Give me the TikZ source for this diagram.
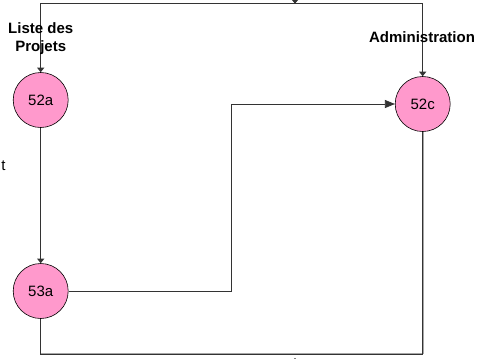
\documentclass[tikz,border=0pt]{standalone}
\usepackage{fontspec}
\setmainfont{Liberation Sans}
\usetikzlibrary{arrows.meta}
\definecolor{procpink}{HTML}{FF99CC}
\definecolor{linegray}{HTML}{333333}
\tikzset{
  proc/.style={circle, draw=black, line width=0.6pt, fill=procpink, minimum size=55pt, inner sep=0pt, font=\fontsize{15}{18}\selectfont},
  lbl/.style={font=\bfseries\fontsize{15}{18.7}\selectfont, inner sep=0pt, align=center},
  conn/.style={draw=linegray, line width=0.8pt},
  sm/.style={conn, -{Triangle[length=4.5pt,width=7pt]}},
  bg/.style={conn, -{Triangle[length=10pt,width=8pt]}},
  shadow/.style={draw=black!35, line width=0.9pt}
}
\begin{document}
\begin{tikzpicture}[x=1pt,y=-1pt]
\useasboundingbox (0,0) rectangle (477,360);
\fill[white] (0,0) rectangle (477,360);
% nodes
\node[proc] (a) at (40.7,100) {52a};
\node[proc] (c) at (422.7,104) {52c};
\node[proc] (b) at (40.7,291) {53a};
% coordinates
\coordinate (tl) at (40.7,3.7);
\coordinate (tr) at (422.7,3.7);
\coordinate (m1) at (231.7,291);
\coordinate (bl) at (40.7,354.5);
\coordinate (ta) at (295,-8);
\coordinate (tb) at (295,3.7);
% shadows
\draw[shadow] ([yshift=1.2pt]bl) -| ([xshift=1.2pt]c.south);
% connectors
\draw[sm] (tr) -- (tl) -- (a.north);
\draw[sm] (tr) -- (c.north);
\draw[sm] (a) -- (b);
\draw[bg] (b.east) -- (m1) |- (c.west);
\draw[conn] (b.south) -- (bl) -| (c.south);
\draw[sm] (ta) -- (tb);
\fill[gray] (294.3,357.8) rectangle (295.7,359.3);
% labels
\node[lbl, anchor=base] (l1) at (40.7,51.7) {Liste des\\Projets};
\node[lbl, anchor=base] (l2) at (422,42.3) {Administration};
\node[font=\fontsize{15}{18}\selectfont, inner sep=0pt, anchor=base east] (l3) at (5.8,170.5) {t};
\end{tikzpicture}
\end{document}
